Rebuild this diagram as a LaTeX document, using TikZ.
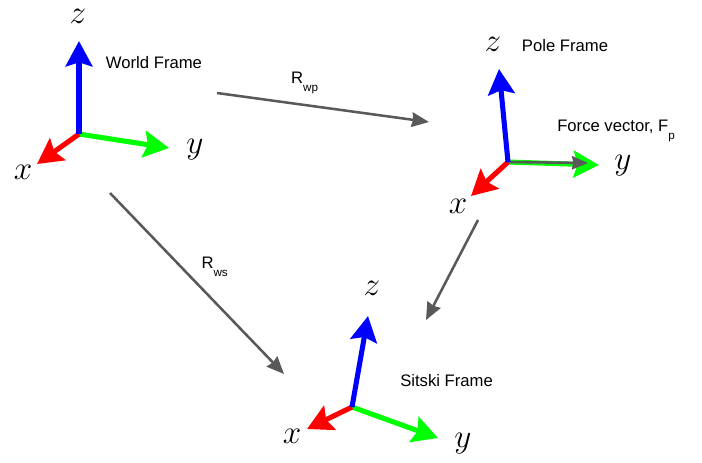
\documentclass[tikz,border=0pt]{standalone}
\usepackage{fontspec}
\setmainfont{Liberation Sans}
\usetikzlibrary{arrows.meta}
\definecolor{axred}{RGB}{255,0,0}
\definecolor{axgreen}{RGB}{0,255,0}
\definecolor{axblue}{RGB}{0,0,255}
\definecolor{rotgray}{RGB}{89,89,89}
\tikzset{
  axis/.style={line width=3.8pt, -{Stealth[length=19pt,width=20pt,inset=3pt]}},
  rot/.style={draw=rotgray, line width=1.9pt, -{Stealth[length=13pt,width=11pt,inset=1pt]}},
  force/.style={draw=rotgray, line width=1.9pt, -{Stealth[length=12pt,width=10pt,inset=1pt]}},
  axlabel/.style={inner sep=0pt, font=\fontsize{24}{24}\selectfont},
  txt/.style={inner sep=0pt, font=\fontsize{12.5}{14}\selectfont, text=black},
  rlabel/.style={inner sep=0pt, font=\fontsize{12.5}{14}\selectfont},
}
\begin{document}
\begin{tikzpicture}[x=0.75pt,y=-0.75pt]
\useasboundingbox (0,0) rectangle (702,462);
% ---------- World frame ----------
\coordinate (wo) at (79,134);
\coordinate (wz) at (79,41);
\coordinate (wy) at (169,148);
\coordinate (wx) at (37,164);
\draw[axis, axgreen] (wo) -- (wy);
\draw[axis, axred] (wo) -- (wx);
\draw[axis, axblue] (wo) -- (wz);
\node[axlabel] (wzl) at (78,16) {$z$};
\node[axlabel] (wyl) at (195,150) {$y$};
\node[axlabel] (wxl) at (23,172) {$x$};
\node[txt] (wname) at (154,63) {World Frame};
% ---------- Pole frame ----------
\coordinate (po) at (508,162);
\coordinate (pz) at (499,69);
\coordinate (py) at (599,165);
\coordinate (pf) at (588,163);
\coordinate (px) at (471,196);
\draw[axis, axgreen] (po) -- (py);
\draw[force] (po) -- (pf);
\draw[axis, axred] (po) -- (px);
\draw[axis, axblue] (po) -- (pz);
\node[axlabel] (pzl) at (493,44) {$z$};
\node[axlabel] (pyl) at (623,166) {$y$};
\node[axlabel] (pxl) at (458,206) {$x$};
\node[txt] (pname) at (565,46) {Pole Frame};
\node[txt, anchor=west] (fname) at (557,131) {Force vector, F\textsubscript{\raisebox{-0.9ex}{p}}};
% ---------- Sitski frame ----------
\coordinate (so) at (352,407);
\coordinate (sz) at (368,316);
\coordinate (sy) at (438,438);
\coordinate (sx) at (307,429);
\draw[axis, axgreen] (so) -- (sy);
\draw[axis, axred] (so) -- (sx);
\draw[axis, axblue] (so) -- (sz);
\node[axlabel] (szl) at (372,288) {$z$};
\node[axlabel] (syl) at (463,444) {$y$};
\node[axlabel] (sxl) at (292,436) {$x$};
\node[txt, anchor=west] (sname) at (400,381) {Sitski Frame};
% ---------- Rotations ----------
\coordinate (rwpA) at (217,93);
\coordinate (rwpB) at (429,122);
\coordinate (rwsA) at (110,193);
\coordinate (rwsB) at (284,374);
\coordinate (rpsA) at (478,220);
\coordinate (rpsB) at (426,320);
\draw[rot] (rwpA) -- (rwpB);
\draw[rot] (rwsA) -- (rwsB);
\draw[rot] (rpsA) -- (rpsB);
\node[rlabel] (lwp) at (305,83) {R\textsubscript{\raisebox{-0.9ex}{wp}}};
\node[rlabel] (lws) at (215,267) {R\textsubscript{\raisebox{-0.9ex}{ws}}};
\end{tikzpicture}
\end{document}
